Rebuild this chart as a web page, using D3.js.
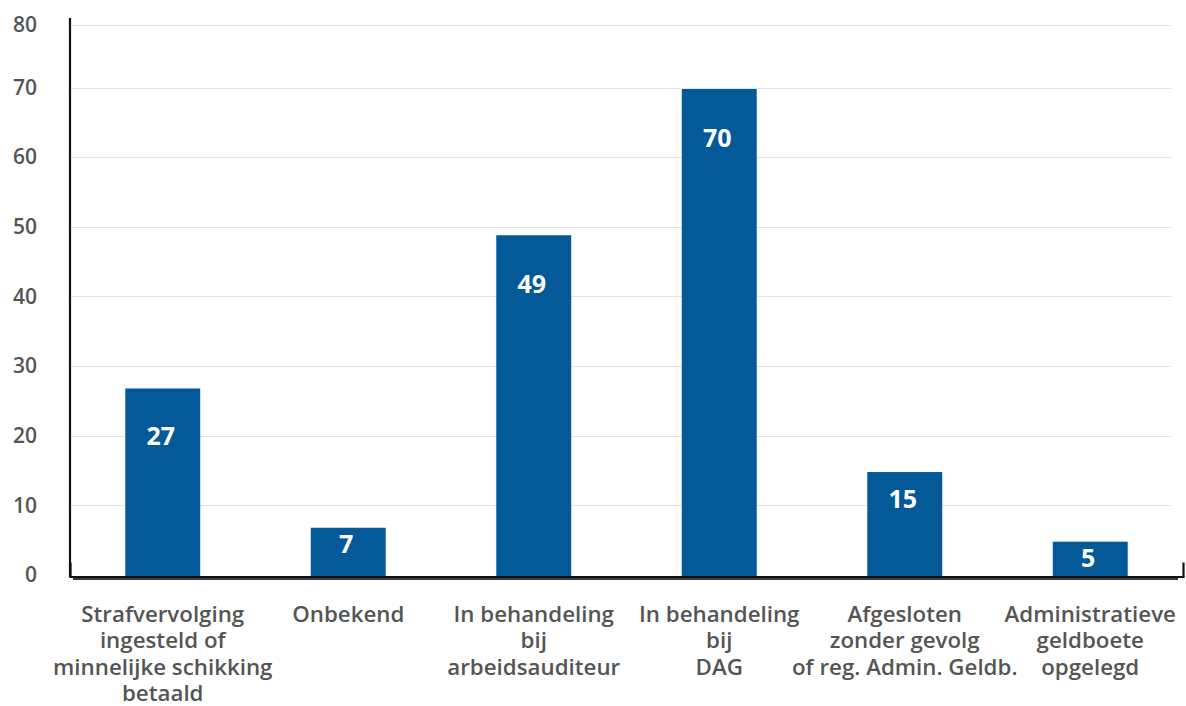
<!DOCTYPE html>
<html>
<head>
<meta charset="utf-8">
<script src="https://cdn.jsdelivr.net/npm/d3@7"></script>
<style>
  html, body { margin: 0; padding: 0; background: #ffffff; }
  svg { display: block; font-family: "Open Sans", "Noto Sans", sans-serif; }
</style>
</head>
<body>
<svg id="chart" width="1186" height="706"></svg>
<script>
// Category labels, one entry per bar (each entry is split over lines)
const categories = [
  ["Strafvervolging", "ingesteld of", "minnelijke schikking", "betaald"],
  ["Onbekend"],
  ["In behandeling", "bij", "arbeidsauditeur"],
  ["In behandeling", "bij", "DAG"],
  ["Afgesloten", "zonder gevolg", "of reg. Admin. Geldb."],
  ["Administratieve", "geldboete", "opgelegd"]
];
const values = [27, 7, 49, 70, 15, 5];
const yTicks = [0, 10, 20, 30, 40, 50, 60, 70, 80];

const barColor = "#045a99";
const svg = d3.select("#chart");

const left = 70, right = 1183, baseY = 575;

const x = d3.scaleBand()
  .domain(d3.range(values.length))
  .range([left, right])
  .paddingInner(0.596)
  .paddingOuter(0.298);

// The top band of the value axis is slightly compressed
const y = d3.scaleLinear()
  .domain([0, 70, 80])
  .range([baseY, 87.5, 25]);

// Horizontal gridlines
svg.append("g")
  .selectAll("line")
  .data(yTicks.filter(d => d > 0))
  .join("line")
  .attr("x1", left + 1)
  .attr("x2", 1172)
  .attr("y1", d => Math.round(y(d)) + 0.5)
  .attr("y2", d => Math.round(y(d)) + 0.5)
  .attr("stroke", "#e4e4e4")
  .attr("stroke-width", 1);

// Value axis labels
const yAxis = d3.axisLeft(y).tickValues(yTicks).tickSize(0).tickPadding(33);
const gy = svg.append("g").attr("transform", `translate(${left},0)`).call(yAxis);
gy.select(".domain").remove();
gy.selectAll("text")
  .attr("fill", "#555555")
  .style("font-size", "21px")
  .style("font-weight", 600)
  .style("font-family", "'Open Sans', sans-serif");

// Bars
svg.append("g")
  .selectAll("rect")
  .data(values)
  .join("rect")
  .attr("x", (d, i) => x(i))
  .attr("width", x.bandwidth())
  .attr("y", d => y(d) + 1.5)
  .attr("height", d => baseY + 0.5 - y(d))
  .attr("fill", barColor);

// Value labels inside the bars
svg.append("g")
  .selectAll("text")
  .data(values)
  .join("text")
  .attr("x", (d, i) => x(i) + x.bandwidth() / 2 - 2)
  .attr("y", d => {
    const h = baseY - y(d);
    return y(d) + 1 + Math.max(16, Math.min(48, h / 4));
  })
  .attr("text-anchor", "middle")
  .attr("dominant-baseline", "central")
  .attr("fill", "#ffffff")
  .style("font-size", "25px")
  .style("font-weight", 700)
  .text(d => d);

// Category axis: shadowed baseline with upturned end ticks
const xAxis = d3.axisBottom(x).tickSize(0).tickSizeOuter(-14).tickFormat("");
svg.append("line")
  .attr("x1", left + 3).attr("x2", 1178)
  .attr("y1", baseY + 4).attr("y2", baseY + 4)
  .attr("stroke", "#3a3a3a").attr("stroke-width", 2.2);
const gx = svg.append("g").attr("transform", `translate(0,${baseY + 1.5})`).call(xAxis);
gx.select(".domain").attr("stroke", "#111111").attr("stroke-width", 2.2);

// Left axis line
svg.append("line")
  .attr("x1", left).attr("x2", left)
  .attr("y1", 18).attr("y2", baseY + 2)
  .attr("stroke", "#111111").attr("stroke-width", 2.2);

// Multi-line category labels
const catG = svg.append("g")
  .selectAll("text")
  .data(categories)
  .join("text")
  .attr("x", (d, i) => x(i) + x.bandwidth() / 2)
  .attr("y", 622)
  .attr("text-anchor", "middle")
  .attr("fill", "#555555")
  .style("font-size", "22.3px")
  .style("font-weight", 600);
catG.selectAll("tspan")
  .data(d => d)
  .join("tspan")
  .attr("x", function () { return d3.select(this.parentNode).attr("x"); })
  .attr("dy", (d, i) => i === 0 ? 0 : 26.3)
  .text(d => d);
</script>
</body>
</html>
